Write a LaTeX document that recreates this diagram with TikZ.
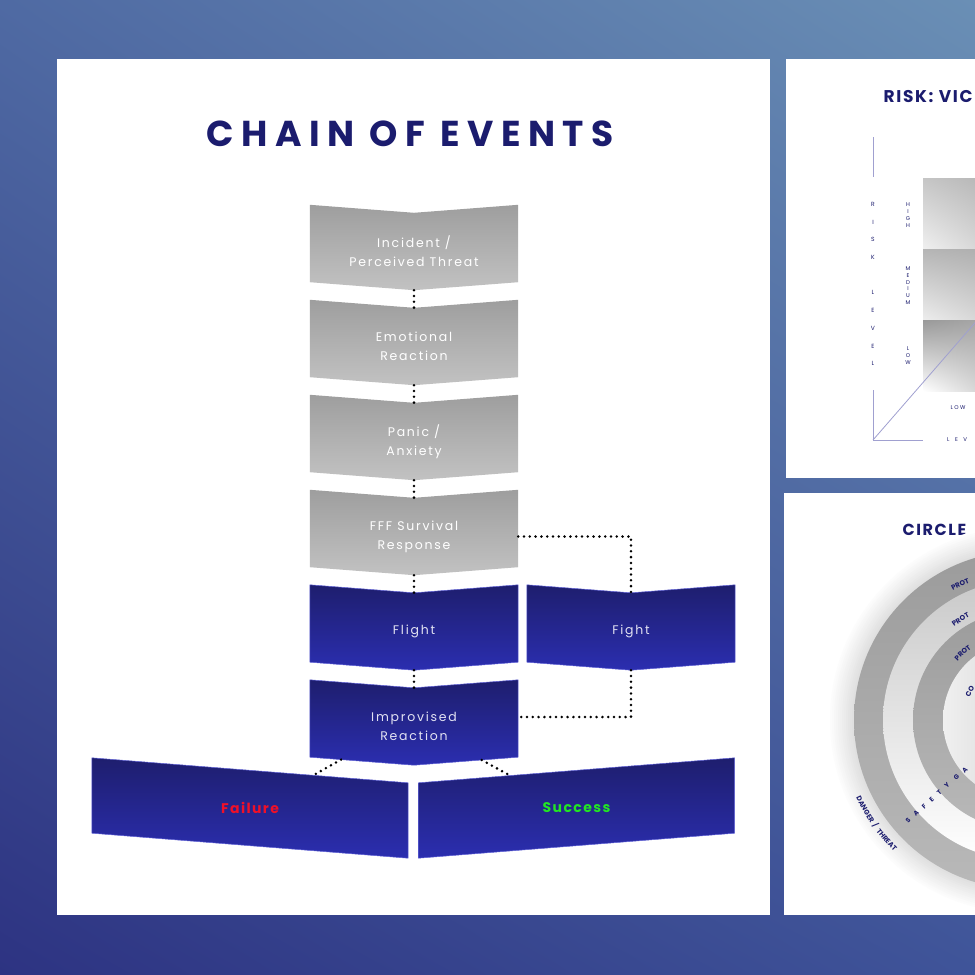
\documentclass[tikz,border=0pt]{standalone}
\usepackage{fontspec}
\usepackage{tikz}
\usetikzlibrary{calc,backgrounds,shadings,decorations.text}

\setmainfont{Poppins}
\newfontfamily\boxfont{Poppins}[LetterSpace=14]
\newfontfamily\headfont{Poppins}[LetterSpace=21]
\newfontfamily\sidefont{Poppins}[LetterSpace=10]
\newfontfamily\ringfont{Poppins}[LetterSpace=25]
\newfontfamily\widefont{Poppins}[LetterSpace=100]

\definecolor{navy}{RGB}{27,28,110}
\definecolor{bgtl}{RGB}{79,106,163}
\definecolor{bgtr}{RGB}{106,143,181}
\definecolor{bgbl}{RGB}{45,51,130}
\definecolor{bgbr}{RGB}{63,84,153}
\definecolor{greytop}{RGB}{158,158,158}
\definecolor{greybot}{RGB}{194,194,194}
\definecolor{bluetop}{RGB}{30,30,110}
\definecolor{bluebot}{RGB}{43,46,176}
\definecolor{blueedge}{RGB}{96,98,214}
\definecolor{bluetext}{RGB}{226,226,242}
\definecolor{axisgrey}{RGB}{160,160,208}
\definecolor{failred}{RGB}{240,16,40}
\definecolor{okgreen}{RGB}{34,230,34}

\begin{document}
\begin{tikzpicture}[x=1pt, y=-1pt,
    greybox/.style={minimum width=208pt, minimum height=77pt, inner sep=0pt, align=center, text=white, font=\boxfont\fontsize{12.5}{19}\selectfont},
    bluebox/.style={greybox, text=bluetext},
    endbox/.style={minimum width=316pt, minimum height=75pt, inner sep=0pt, font=\sidefont\bfseries\fontsize{14}{14}\selectfont},
    link/.style={line width=2.8pt, line cap=round, dash pattern=on 0pt off 5.8pt},
    axisline/.style={draw=axisgrey, line width=0.8pt},
    tinytext/.style={inner sep=0pt, align=center, text=navy},
    ringtext/.style={decorate, decoration={text along path, text={|\ringfont\bfseries\fontsize{7}{7}\selectfont\color{navy}|#1}}}]

    % Fundo
    \useasboundingbox (0,0) rectangle (975,975);
    \clip (0,0) rectangle (975,975);
    \begin{scope}[on background layer]
        \shade[upper left=bgtl, upper right=bgtr, lower left=bgbl, lower right=bgbr] (0,0) rectangle (975,975);
        \fill[white] (57,59) rectangle (770,915);
        \fill[white] (786,59) rectangle (975,478);
        \fill[white] (784,493) rectangle (975,915);
    \end{scope}

    % Titulo
    \node[font=\headfont\bfseries\fontsize{36}{36}\selectfont, text=navy] (title) at (410,134) {CHAIN OF EVENTS};

    % Etapas
    \node[greybox] (inc) at (414,251.5) {Incident /\\Perceived Threat};
    \node[greybox] (emo) at (414,346.5) {Emotional\\Reaction};
    \node[greybox] (pan) at (414,441.5) {Panic /\\Anxiety};
    \node[greybox] (fff) at (414,536.5) {FFF Survival\\Response};
    \node[bluebox] (fli) at (414,631.5) {Flight};
    \node[bluebox] (fig) at (631,631.5) {Fight};
    \node[bluebox] (imp) at (414,726.5) {Improvised\\Reaction};
    \node[endbox, text=failred] (fail) at (250,808) {Failure};
    \node[endbox, text=okgreen] (succ) at (576.5,808) {Success};

    % Formas das caixas
    \begin{scope}[on background layer]
        \foreach \n in {inc,emo,pan,fff}
            \shade[top color=greytop, bottom color=greybot] ([yshift=8pt]\n.north west) -- (\n.north) -- ([yshift=8pt]\n.north east)
                -- ([yshift=8pt]\n.south east) -- (\n.south) -- ([yshift=8pt]\n.south west) -- cycle;
        \foreach \n in {fli,fig,imp}
            \shade[top color=bluetop, bottom color=bluebot, draw=blueedge, line width=0.5pt] ([yshift=8pt]\n.north west) -- (\n.north) -- ([yshift=8pt]\n.north east)
                -- ([yshift=8pt]\n.south east) -- (\n.south) -- ([yshift=8pt]\n.south west) -- cycle;
        \shade[top color=bluetop, bottom color=bluebot, draw=blueedge, line width=0.5pt] ([yshift=12.5pt]fail.north west) -- ([yshift=-12.5pt]fail.north east)
            -- ([yshift=-12.5pt]fail.south east) -- ([yshift=12.5pt]fail.south west) -- cycle;
        \shade[top color=bluetop, bottom color=bluebot, draw=blueedge, line width=0.5pt] ([yshift=-12.5pt]succ.north west) -- ([yshift=12.5pt]succ.north east)
            -- ([yshift=12.5pt]succ.south east) -- ([yshift=-12.5pt]succ.south west) -- cycle;
    \end{scope}

    % Ligacoes
    \draw[link] (inc.south) -- (emo.north);
    \draw[link] (emo.south) -- (pan.north);
    \draw[link] (pan.south) -- (fff.north);
    \draw[link] (fff.south) -- (fli.north);
    \draw[link] (fli.south) -- (imp.north);
    \draw[link] (fff.east) -| (fig.north);
    \draw[link] (fig.south) |- ([yshift=9.5pt]imp.east);
    \draw[link] ($([yshift=8pt]imp.south west)!0.3!(imp.south)$) -- ($([yshift=12.5pt]fail.north west)!0.7!([yshift=-12.5pt]fail.north east)$);
    \draw[link] ($(imp.south)!0.65!([yshift=8pt]imp.south east)$) -- ($([yshift=-12.5pt]succ.north west)!0.29!([yshift=12.5pt]succ.north east)$);

    % Painel do risco
    \node[anchor=west, font=\sidefont\bfseries\fontsize{17}{17}\selectfont, text=navy] (risk) at (880,97) {RISK: VIC};
    \shade[upper left=gray!45, upper right=gray!55, lower left=gray!12, lower right=gray!30] (923,178) rectangle (975,249);
    \shade[upper left=gray!58, upper right=gray!62, lower left=gray!14, lower right=gray!30] (923,249) rectangle (975,320);
    \shade[upper left=gray!80, upper right=gray!70, lower left=white, lower right=gray!30] (923,320) rectangle (975,391);
    \draw[axisline] (873,137) -- (873,177);
    \draw[axisline] (873,390) -- (873,440) -- (923,440);
    \draw[axisline] (873,440) -- (1000,294);
    \node[tinytext, font=\ringfont\fontsize{6}{17.7}\selectfont] (risklevel) at (873,284) {R\\I\\S\\K\\[17.7pt]L\\E\\V\\E\\L};
    \node[tinytext, font=\ringfont\fontsize{5.5}{6.8}\selectfont] (high) at (908,215) {H\\I\\G\\H};
    \node[tinytext, font=\ringfont\fontsize{5.5}{6.8}\selectfont] (medium) at (908,285.5) {M\\E\\D\\I\\U\\M};
    \node[tinytext, font=\ringfont\fontsize{5.5}{6.8}\selectfont] (low) at (908,355.5) {L\\O\\W};
    \node[tinytext, font=\ringfont\fontsize{5.5}{5.5}\selectfont] (lowx) at (958,408) {LOW};
    \node[tinytext, anchor=west, font=\widefont\fontsize{5.5}{5.5}\selectfont] (levx) at (947,440) {LEV};

    % Painel dos circulos
    \node[anchor=west, font=\sidefont\bfseries\fontsize{16}{16}\selectfont, text=navy] (circle) at (899,530) {CIRCLE};
    \foreach \i in {0,...,13}
        \fill[black!\i] (1023,720) circle ({195-2*\i});
    \shade[top color=gray!78, bottom color=gray!55] (1023,720) circle (169);
    \shade[top color=gray!42, bottom color=white] (1023,720) circle (140);
    \shade[top color=gray!78, bottom color=gray!55] (1023,720) circle (110);
    \shade[left color=gray!12, right color=gray!50] (1023,720) circle (80);
    \path[ringtext=PROT] (1023,720) ++(-118.5:147) arc[start angle=-118.5, end angle=-60, radius=147];
    \path[ringtext=PROT] (1023,720) ++(-126.5:116) arc[start angle=-126.5, end angle=-60, radius=116];
    \path[ringtext=PROT] (1023,720) ++(-138:88) arc[start angle=-138, end angle=-60, radius=88];
    \path[ringtext=CO] (1023,720) ++(-157:58) arc[start angle=-157, end angle=-100, radius=58];
    \path[ringtext=DANGER / THREAT] (1023,720) ++(-205:184) arc[start angle=-205, end angle=-262, radius=184];
    \node[rotate=42, anchor=base west, inner sep=0pt, font=\widefont\bfseries\fontsize{6.5}{6.5}\selectfont, text=navy] (gap) at (908,824) {SAFETY GA};

\end{tikzpicture}
\end{document}
